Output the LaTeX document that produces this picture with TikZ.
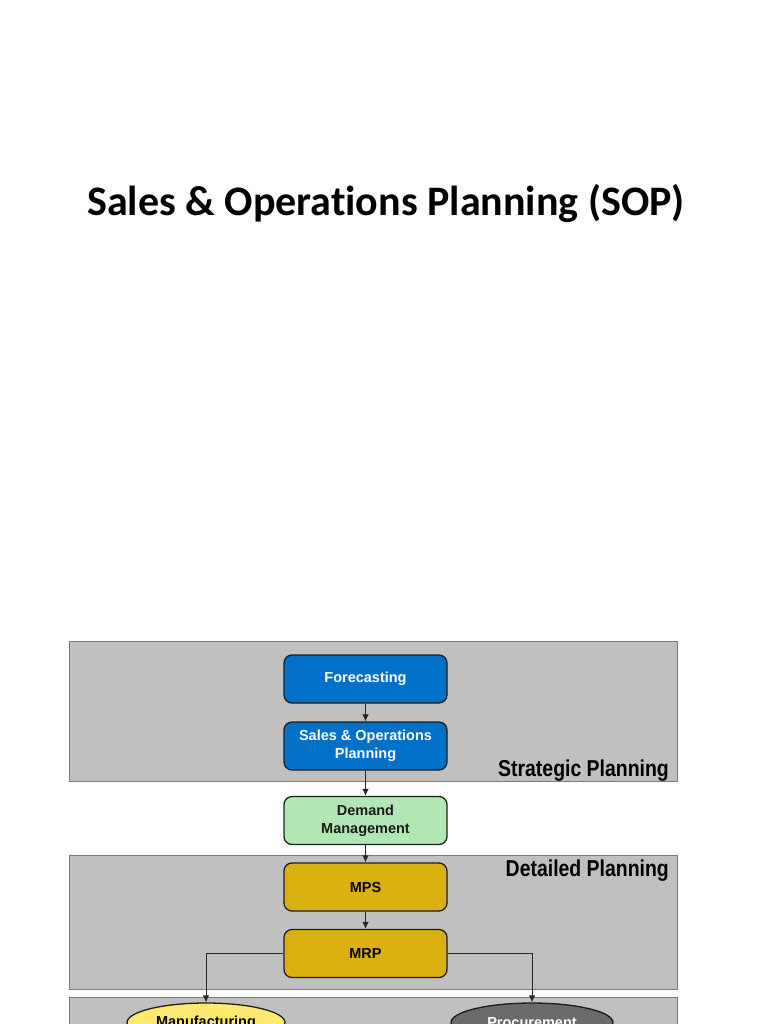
\documentclass[tikz,border=0pt]{standalone}
\usepackage{fontspec}
\setmainfont{Liberation Sans}
\newfontfamily\titlefont[Ligatures=NoCommon]{Carlito}
\newfontfamily\labelfont[FakeStretch=0.845]{Liberation Sans}
\usetikzlibrary{arrows.meta,shapes.geometric}
\definecolor{panelgrey}{HTML}{C0C0C0}
\definecolor{panelborder}{HTML}{7A7A7A}
\definecolor{boxblue}{HTML}{0070C8}
\definecolor{boxgreen}{HTML}{B3E6B5}
\definecolor{boxgold}{HTML}{DAB20F}
\definecolor{ellyellow}{HTML}{FFE96E}
\definecolor{ellgrey}{HTML}{6B6B6B}
\definecolor{edgedark}{HTML}{1E1E1E}
\tikzset{
  panel/.style={draw=panelborder, fill=panelgrey, line width=1pt, inner sep=0pt},
  stepbox/.style={draw=edgedark, line width=1.3pt, rounded corners=8pt,
    minimum width=163pt, minimum height=48pt, inner sep=0pt, align=center,
    font=\fontsize{14.5}{18}\selectfont\bfseries},
  bluebox/.style={stepbox, fill=boxblue, text=white},
  greenbox/.style={stepbox, fill=boxgreen, text=black!90},
  goldbox/.style={stepbox, fill=boxgold, text=black},
  outell/.style={ellipse, draw=edgedark, line width=1.3pt, minimum width=158pt,
    minimum height=39pt, inner sep=0pt, align=center,
    font=\fontsize{14.5}{18}\selectfont\bfseries},
  paneltitle/.style={anchor=base east, inner sep=0pt,
    font=\labelfont\fontsize{23}{26}\selectfont\bfseries},
  flow/.style={draw=black!85, line width=0.9pt,
    -{Latex[length=7pt,width=6.5pt]}}
}
\begin{document}
\begin{tikzpicture}[x=1pt,y=-1pt]
\useasboundingbox (0,0) rectangle (768,1024);
\clip (0,0) rectangle (768,1024);
% title
\node[anchor=base, inner sep=0pt, font=\titlefont\fontsize{42}{48}\selectfont\bfseries] (title) at (386,215) {Sales \& Operations Planning (SOP)};
% panels
\node[panel, minimum width=608pt, minimum height=140.5pt] (strat) at (373,711.25) {};
\node[panel, minimum width=608pt, minimum height=134pt] (detail) at (373,922) {};
\node[panel, minimum width=608pt, minimum height=60pt] (exec) at (373,1027) {};
\node[paneltitle] (stratlabel) at (669,776) {Strategic Planning};
\node[paneltitle] (detaillabel) at (669,876) {Detailed Planning};
% boxes
\node[bluebox] (fc) at (365.5,679) {Forecasting};
\node[bluebox] (sop) at (365.5,746) {Sales \& Operations\\Planning};
\node[greenbox] (dm) at (365.5,820.5) {Demand\\Management};
\node[goldbox] (mps) at (365.5,887) {MPS};
\node[goldbox] (mrp) at (365.5,953.5) {MRP};
% ellipses
\node[outell, fill=ellyellow, text=black] (manu) at (206,1022.5) {Manufacturing};
\node[outell, fill=ellgrey, text=white, minimum width=162pt] (proc) at (532,1022.5) {Procurement};
% connectors
\draw[flow] (fc) -- (sop);
\draw[flow] (sop) -- (dm);
\draw[flow] (dm) -- (mps);
\draw[flow] (mps) -- (mrp);
\draw[flow] (mrp.west) -| (manu.north);
\draw[flow] (mrp.east) -| (proc.north);
\end{tikzpicture}
\end{document}
